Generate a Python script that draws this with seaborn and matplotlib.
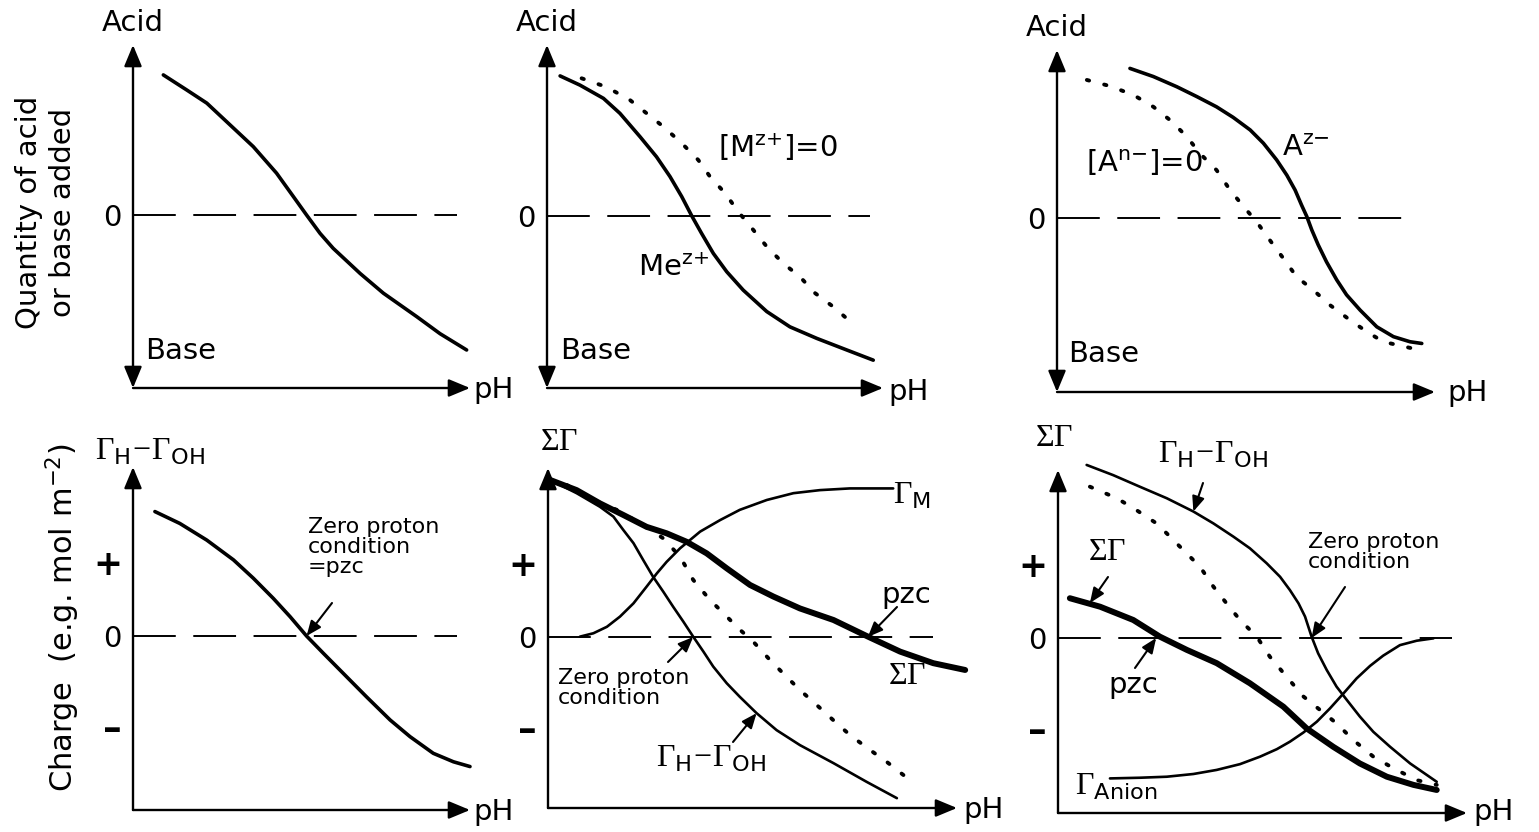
#!/usr/bin/env python3
"""Schematic titration / surface charge curves (6 panels)
"""

import matplotlib
matplotlib.use("Agg")
import matplotlib.pyplot as plt
import seaborn as sns

W, H = 1539, 832

# ---- data: pH runs 0..10 along each x axis, y in arbitrary units, 0 = dashed line
p1_ph = [0.90, 1.59, 2.19, 2.88, 3.57, 4.26, 4.76, 5.15, 5.55, 5.94, 6.74, 7.43, 8.42, 9.11, 9.90]
p1_q = [4.12, 3.68, 3.29, 2.65, 2.01, 1.23, 0.54, 0.0, -0.54, -0.98, -1.72, -2.30, -2.99, -3.49, -3.97]

p2_me_ph = [0.39, 0.98, 1.68, 2.17, 2.77, 3.26, 3.66, 4.01, 4.31, 4.60, 4.95, 5.35, 5.84, 6.54,
            7.23, 8.03, 8.92, 9.71]
p2_me_q = [4.12, 3.85, 3.46, 3.02, 2.33, 1.74, 1.16, 0.57, 0.0, -0.51, -1.10, -1.64, -2.18, -2.81,
           -3.26, -3.60, -3.94, -4.24]
p2_blank_ph = [1.03, 1.78, 2.47, 3.46, 4.01, 4.50, 4.85, 5.30, 5.69, 6.14, 6.54, 7.03, 7.53, 7.98, 8.52, 9.02]
p2_blank_q = [4.05, 3.79, 3.41, 2.63, 2.14, 1.65, 1.16, 0.67, 0.13, -0.41, -0.90, -1.39, -1.79, -2.27, -2.67, -3.10]

p3_an_ph = [1.93, 2.55, 3.17, 3.70, 4.22, 4.66, 5.11, 5.46, 5.81, 6.08, 6.30, 6.47, 6.61, 6.74,
            6.91, 7.13, 7.40, 7.66, 8.02, 8.46, 8.90, 9.34, 9.65]
p3_an_q = [4.40, 4.16, 3.86, 3.57, 3.27, 2.96, 2.59, 2.20, 1.71, 1.26, 0.82, 0.38, 0.04, -0.35,
           -0.79, -1.29, -1.82, -2.26, -2.71, -3.20, -3.49, -3.64, -3.69]
p3_blank_ph = [0.79, 1.40, 2.02, 2.55, 2.99, 3.43, 3.78, 4.22, 4.58, 4.94, 5.28, 5.63, 5.99, 6.34,
               6.78, 7.22, 7.75, 8.19, 8.63, 9.38]
p3_blank_q = [4.06, 3.88, 3.62, 3.27, 2.88, 2.40, 1.90, 1.41, 0.82, 0.33, -0.11, -0.65, -1.19, -1.73,
              -2.12, -2.56, -3.00, -3.34, -3.64, -3.83]

p4_ph = [0.65, 1.39, 2.19, 2.98, 3.57, 4.16, 4.66, 5.15, 5.65, 6.24, 6.93, 7.63, 8.22, 8.91, 9.51, 10.0]
p4_charge = [3.66, 3.31, 2.82, 2.24, 1.70, 1.11, 0.57, 0.0, -0.51, -1.10, -1.79, -2.47, -2.96,
             -3.45, -3.70, -3.84]

p5_sum_ph = [0.05, 0.70, 1.27, 1.84, 2.41, 2.90, 3.39, 3.88, 4.37, 4.94, 5.51, 6.16, 6.98, 7.79,
             8.61, 9.42, 10.2]
p5_sum = [4.62, 4.32, 3.93, 3.59, 3.24, 3.05, 2.80, 2.46, 2.02, 1.53, 1.19, 0.84, 0.50, 0.03,
          -0.43, -0.77, -0.97]
p5_hoh_ph = [0.05, 0.70, 1.27, 1.60, 1.84, 2.09, 2.33, 2.57, 2.82, 3.06, 3.31, 3.55, 3.80, 4.04,
             4.37, 4.69, 5.10, 5.59, 6.16, 6.98, 7.79, 8.53]
p5_hoh = [4.62, 4.23, 3.83, 3.54, 3.15, 2.76, 2.26, 1.77, 1.33, 0.89, 0.45, 0.01, -0.43, -0.87,
          -1.36, -1.76, -2.24, -2.74, -3.18, -3.71, -4.26, -4.74]
p5_blank_ph = [0.46, 1.11, 1.68, 2.33, 2.82, 3.23, 3.55, 3.96, 4.29, 4.65, 5.02, 5.43, 5.75, 6.16,
               6.57, 6.97, 7.38, 7.87, 8.28, 8.69]
p5_blank = [4.47, 4.03, 3.74, 3.29, 2.90, 2.36, 1.68, 1.09, 0.70, 0.26, -0.14, -0.68, -1.07, -1.56,
            -2.00, -2.44, -2.88, -3.32, -3.67, -4.06]
p5_m_ph = [0.78, 1.11, 1.44, 1.76, 2.09, 2.41, 2.66, 2.90, 3.23, 3.72, 4.21, 4.69, 5.35, 6.00,
           6.65, 7.38, 8.44]
p5_m = [0.01, 0.11, 0.30, 0.60, 0.99, 1.48, 1.87, 2.21, 2.61, 3.10, 3.44, 3.74, 4.03, 4.23,
        4.32, 4.37, 4.37]

p6_hoh_ph = [0.70, 1.35, 2.00, 2.66, 3.31, 3.80, 4.29, 4.69, 5.10, 5.43, 5.67, 5.88, 6.04, 6.20,
             6.36, 6.57, 6.81, 7.06, 7.38, 7.71, 8.12, 8.61, 9.26]
p6_hoh = [5.09, 4.79, 4.45, 4.11, 3.72, 3.37, 2.98, 2.64, 2.20, 1.80, 1.41, 1.02, 0.63, 0.04,
          -0.45, -0.94, -1.43, -1.82, -2.31, -2.76, -3.20, -3.69, -4.23]
p6_blank_ph = [0.78, 1.44, 1.92, 2.41, 2.74, 3.06, 3.47, 3.80, 4.12, 4.45, 4.86, 5.18, 5.59, 6.00,
               6.41, 6.81, 7.22, 7.71, 8.20, 8.77, 9.26]
p6_blank = [4.45, 4.11, 3.76, 3.37, 2.98, 2.59, 2.10, 1.51, 1.02, 0.53, 0.04, -0.55, -1.14, -1.72,
            -2.12, -2.51, -3.00, -3.49, -3.83, -4.18, -4.32]
p6_sum_ph = [0.29, 1.03, 1.84, 2.49, 3.15, 3.88, 4.69, 5.51, 6.08, 6.73, 7.38, 8.04, 8.69, 9.26]
p6_sum = [1.17, 0.92, 0.53, 0.04, -0.35, -0.74, -1.33, -2.02, -2.66, -3.20, -3.69, -4.08, -4.32, -4.47]
p6_anion_ph = [1.27, 2.00, 2.66, 3.31, 3.88, 4.45, 4.94, 5.35, 5.67, 6.00, 6.33, 6.65, 6.98, 7.30,
               7.63, 7.95, 8.36, 8.77, 9.18]
p6_anion = [-4.13, -4.11, -4.08, -4.00, -3.88, -3.71, -3.49, -3.27, -3.05, -2.78, -2.46, -2.07,
            -1.63, -1.19, -0.82, -0.52, -0.21, -0.08, -0.01]

# panel frames in pixels: y-axis x, x-arrow tip, y-arrow tip, x-axis y, zero line y
GEO = {
    1: (133, 470, 45, 388, 215),
    2: (547, 883, 45, 388, 216),
    3: (1057, 1435, 50, 392, 218),
    4: (133, 470, 467, 810, 636),
    5: (548, 957, 468, 808, 637),
    6: (1058, 1467, 470, 813, 638),
}
PXU = 34.0
DASH_END = {1: 9.61, 2: 9.61, 3: 9.26, 4: 9.61, 5: 9.41, 6: 9.63}

sns.set_theme(style="white")
plt.rcParams["font.family"] = ["DejaVu Sans"]
plt.rcParams["text.color"] = "black"
plt.rcParams["ytick.color"] = "black"
plt.rcParams["ytick.labelcolor"] = "black"
plt.rcParams["mathtext.fontset"] = "custom"
plt.rcParams["mathtext.rm"] = "Liberation Serif"
plt.rcParams["mathtext.sf"] = "DejaVu Sans"
plt.rcParams["mathtext.it"] = "DejaVu Sans:italic"

FS = 21
SOLID = dict(color="black", linewidth=2.6, solid_capstyle="round", solid_joinstyle="round")
THIN = dict(color="black", linewidth=1.9, solid_capstyle="round", solid_joinstyle="round")
THICK = dict(color="black", linewidth=4.3, solid_capstyle="round", solid_joinstyle="round")
DOTS = dict(color="black", linewidth=2.8, linestyle=(0, (0.6, 4.0)), dash_capstyle="round")

fig = plt.figure(figsize=(W / 100, H / 100), dpi=100)


def to_data(k, X, Y):
    ox, xe, yt, ya, z = GEO[k]
    return (X - ox) / (xe - ox) * 10, (z - Y) / PXU


def make_ax(k, both=False, signs=False):
    ox, xe, yt, ya, z = GEO[k]
    ax = fig.add_axes([ox / W, 1 - ya / H, (xe - ox) / W, (ya - yt) / H])
    ax.patch.set_alpha(0)
    sns.despine(ax=ax, left=True, bottom=True)
    ax.set_xticks([])
    y0, y1 = (z - ya) / PXU, (z - yt) / PXU
    ax.set_xlim(0, 10)
    ax.set_ylim(y0, y1)
    head = "-|>,head_length=0.65,head_width=0.27"
    style = "<|-|>,head_length=0.65,head_width=0.27" if both else head
    kw = dict(color="black", lw=1.7, mutation_scale=20, shrinkA=0, shrinkB=0)
    ax.annotate("", xy=(0, y1), xytext=(0, y0), arrowprops=dict(arrowstyle=style, **kw),
                annotation_clip=False)
    ax.annotate("", xy=(10, y0), xytext=(0, y0), arrowprops=dict(arrowstyle=head, **kw),
                annotation_clip=False)
    ax.hlines(0, 0, DASH_END[k], colors="black", linewidth=1.4, linestyles=[(0, (22, 9))])
    ax.tick_params(axis="y", length=0, pad=8, labelsize=FS, labelcolor="black")
    if signs:
        ax.set_yticks([-2.65, 0, 2.2])
        ax.set_yticklabels(["\u2013", "0", "+"])
        for lab in ax.get_yticklabels():
            if lab.get_text() == "+":
                lab.set_fontweight("bold")
                lab.set_fontsize(FS + 4)
            elif lab.get_text() != "0":
                lab.set_fontweight("bold")
                lab.set_fontsize(FS + 6)
    else:
        ax.set_yticks([0])
        ax.set_yticklabels(["0"])
    return ax


def curve(ax, x, y, style):
    sns.lineplot(x=x, y=y, ax=ax, estimator=None, clip_on=False, **style)


def label(X, Y, s, ha="left", va="center", size=FS, **kw):
    fig.text(X / W, 1 - Y / H, s, ha=ha, va=va, fontsize=size, color="black", **kw)


def pointer(ax, k, X, Y, target):
    ax.annotate("", xy=target, xytext=to_data(k, X, Y), annotation_clip=False,
                arrowprops=dict(arrowstyle="-|>,head_length=0.6,head_width=0.25",
                                color="black", lw=1.5, mutation_scale=15,
                                shrinkA=0, shrinkB=0))


HOH = r"$\Gamma_{\mathsf{H}}\!-\!\Gamma_{\mathsf{OH}}$"
SUM = r"$\Sigma\Gamma$"

# ---- top row
ax1 = make_ax(1, both=True)
curve(ax1, p1_ph, p1_q, SOLID)
ax2 = make_ax(2, both=True)
curve(ax2, p2_blank_ph, p2_blank_q, DOTS)
curve(ax2, p2_me_ph, p2_me_q, SOLID)
ax3 = make_ax(3, both=True)
curve(ax3, p3_blank_ph, p3_blank_q, DOTS)
curve(ax3, p3_an_ph, p3_an_q, SOLID)

for X, Y in [(133, 23), (547, 23), (1057, 28)]:
    label(X, Y, "Acid", ha="center")
for X, Y in [(145, 351), (560, 351), (1068, 354)]:
    label(X, Y, "Base")
for X, Y in [(473, 390), (888, 392), (1447, 393)]:
    label(X, Y, "pH")
label(46, 212, "Quantity of acid\nor base added", ha="center", rotation=90, linespacing=1.25)
label(718, 147, r"[M$^{\mathsf{z}\mathsf{+}}$]=0")
label(638, 268, r"Me$^{\mathsf{z}\mathsf{+}}$")
label(1086, 163, r"[A$^{\mathsf{n}\mathsf{-}}$]=0")
label(1282, 148, r"A$^{\mathsf{z}\mathsf{-}}$")

# ---- bottom row
ax4 = make_ax(4, signs=True)
curve(ax4, p4_ph, p4_charge, SOLID)
ax5 = make_ax(5, signs=True)
curve(ax5, p5_blank_ph, p5_blank, DOTS)
curve(ax5, p5_hoh_ph, p5_hoh, THIN)
curve(ax5, p5_m_ph, p5_m, THIN)
curve(ax5, p5_sum_ph, p5_sum, THICK)
ax6 = make_ax(6, signs=True)
curve(ax6, p6_blank_ph, p6_blank, DOTS)
curve(ax6, p6_hoh_ph, p6_hoh, THIN)
curve(ax6, p6_anion_ph, p6_anion, THIN)
curve(ax6, p6_sum_ph, p6_sum, THICK)

for X, Y in [(473, 812), (963, 810), (1473, 812)]:
    label(X, Y, "pH")
label(63, 618, r"Charge  (e.g. mol m$^{\mathsf{-2}}$)", ha="center", rotation=90, size=22)

label(95, 452, HOH, size=23)
label(308, 517, "Zero proton\ncondition\n=pzc", va="top", size=16, linespacing=1.0)
pointer(ax4, 4, 332, 603, (5.15, 0))

label(540, 442, SUM, size=23)
label(893, 495, r"$\Gamma_{\mathsf{M}}$", size=23)
label(881, 595, "pzc")
pointer(ax5, 5, 897, 607, (7.82, 0))
label(888, 675, SUM, size=23)
label(558, 668, "Zero proton\ncondition", va="top", size=16, linespacing=1.0)
pointer(ax5, 5, 668, 662, (3.55, 0))
label(656, 758, HOH, size=23)
pointer(ax5, 5, 733, 742, (5.10, -2.24))

label(1035, 437, SUM, size=23)
label(1158, 455, HOH, size=23)
pointer(ax6, 6, 1203, 483, (3.31, 3.72))
label(1088, 552, SUM, size=23)
pointer(ax6, 6, 1108, 577, (0.78, 1.03))
label(1108, 685, "pzc")
pointer(ax6, 6, 1135, 668, (2.40, 0))
label(1308, 532, "Zero proton\ncondition", va="top", size=16, linespacing=1.0)
pointer(ax6, 6, 1345, 587, (6.20, 0))
label(1075, 787, r"$\Gamma_{\mathsf{Anion}}$", size=23)

fig.savefig("out.png", dpi=100, facecolor="white")
